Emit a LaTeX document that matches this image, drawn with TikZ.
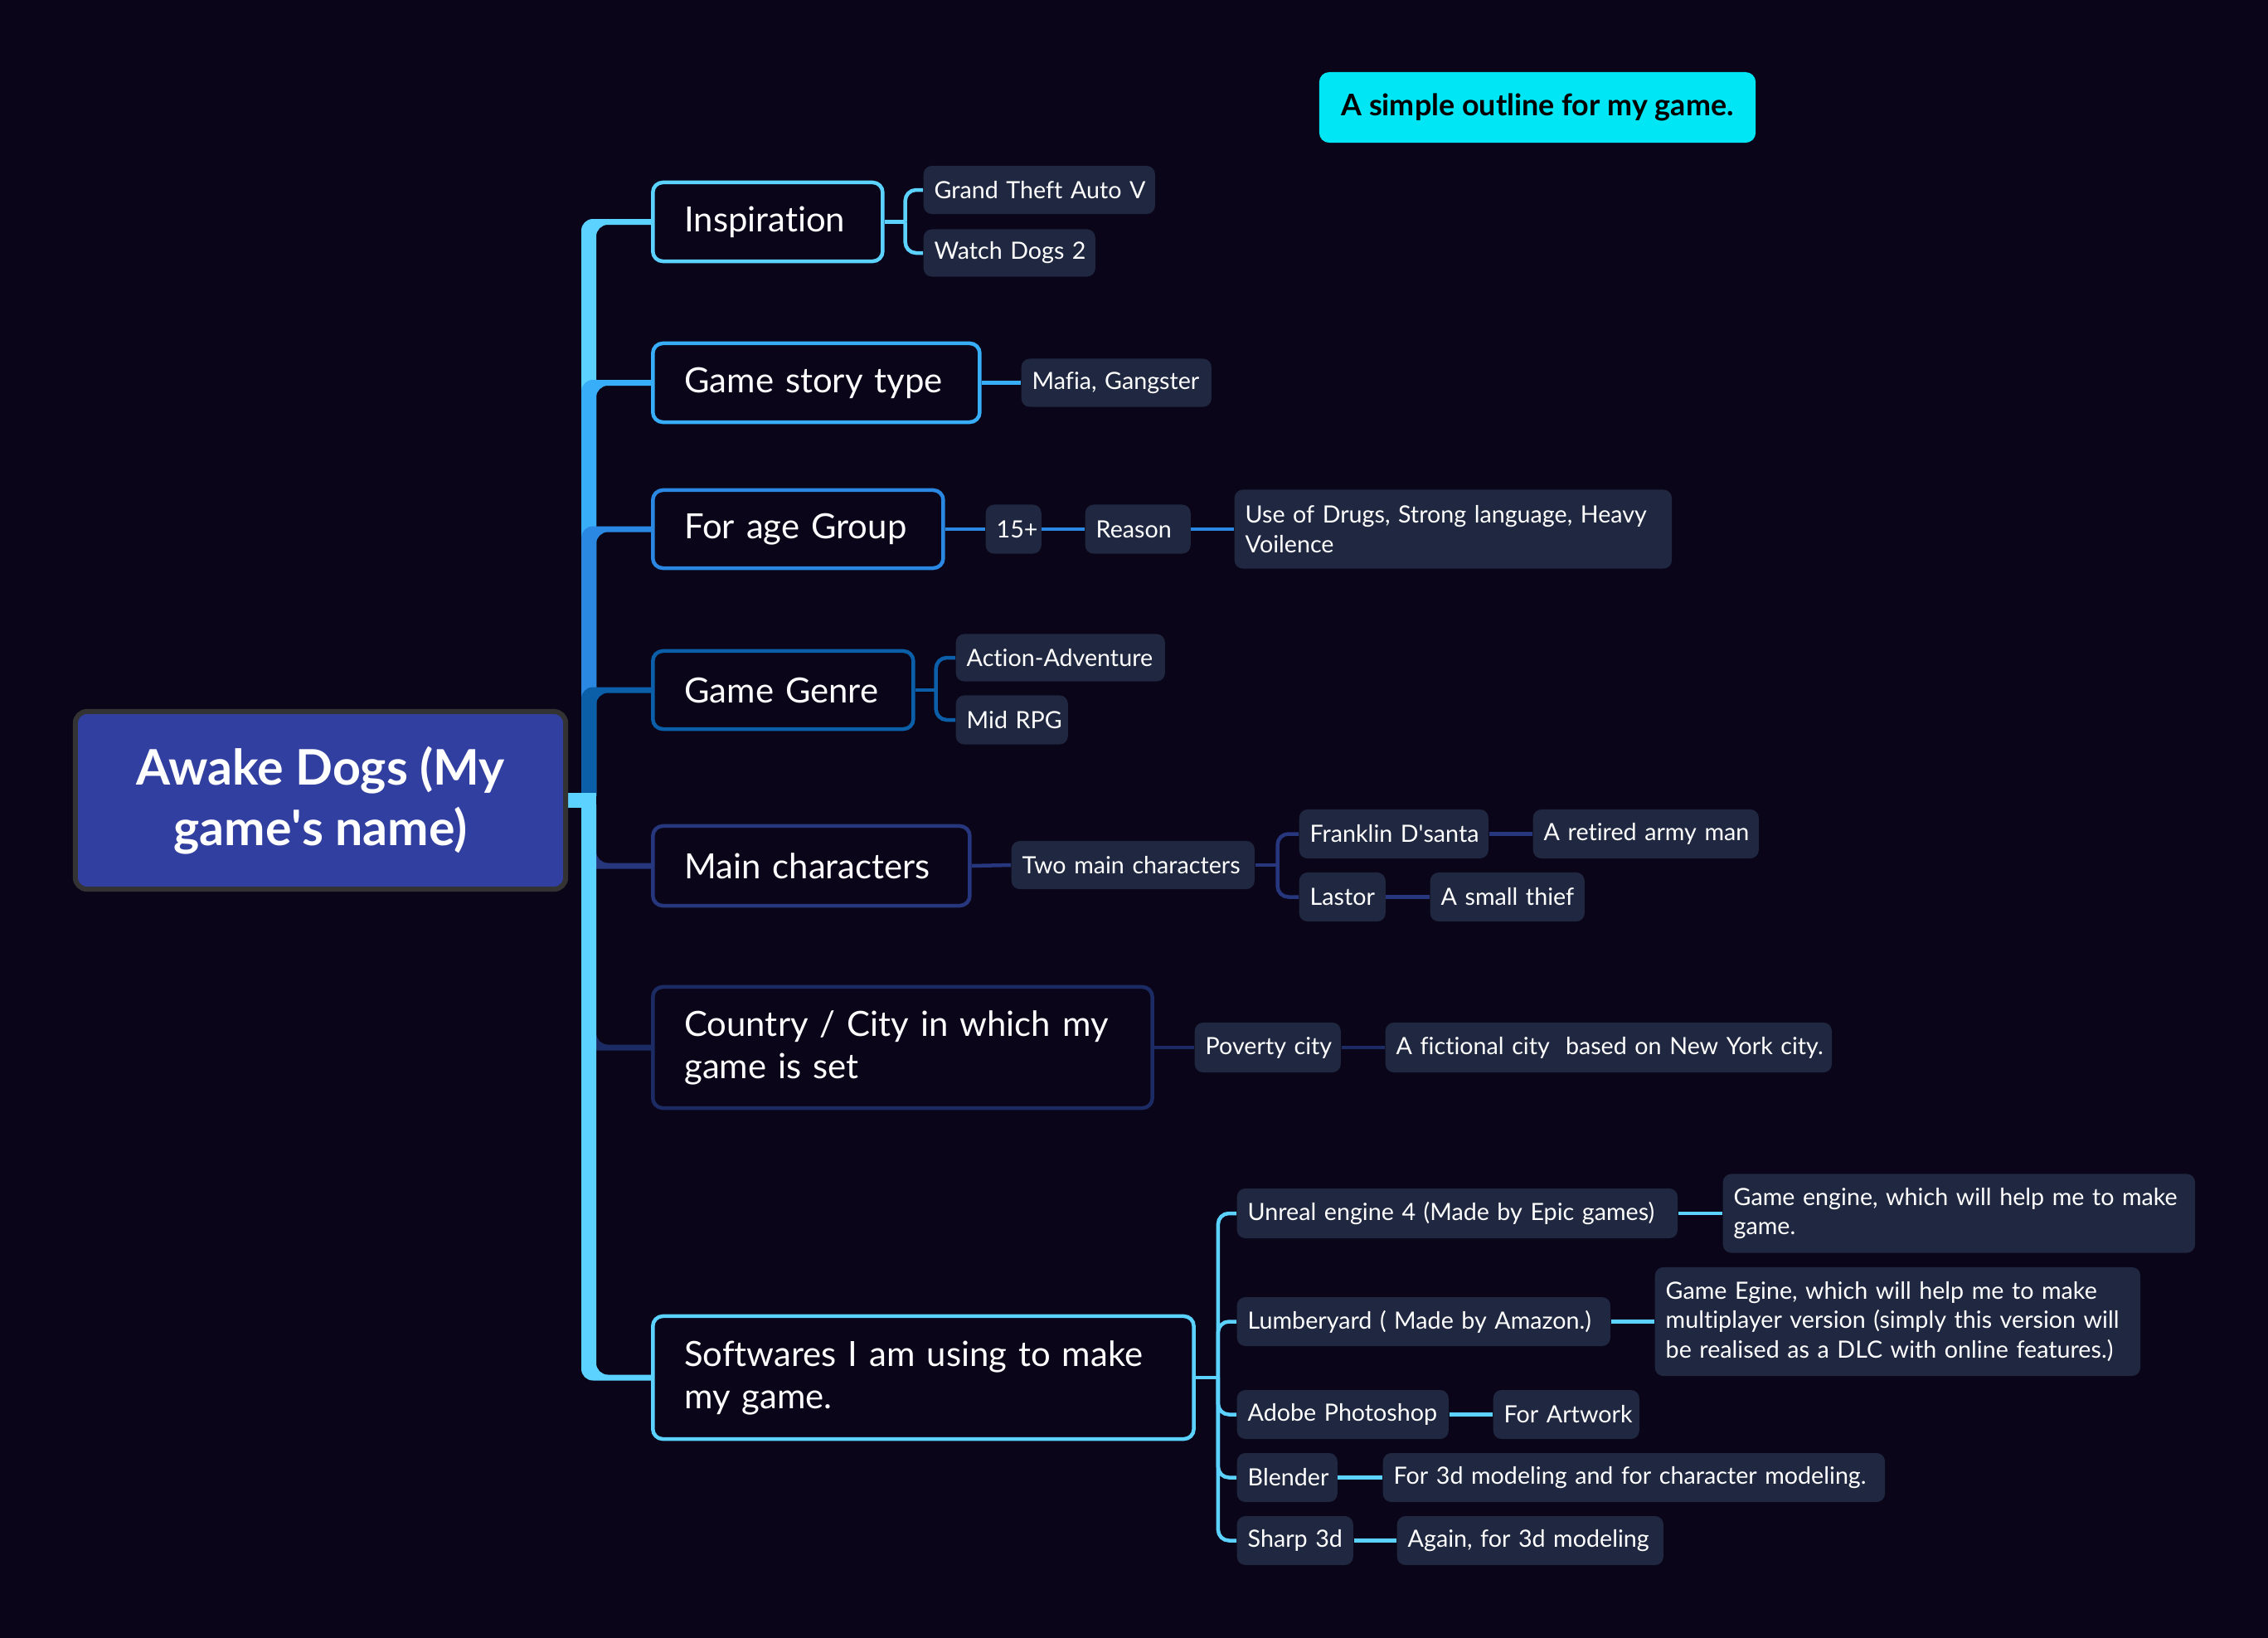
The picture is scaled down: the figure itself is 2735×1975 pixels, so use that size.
\documentclass[tikz,border=0pt]{standalone}
\usepackage{fontspec}
\setmainfont{Lato}[Ligatures=NoCommon]
\usetikzlibrary{backgrounds}
\definecolor{bg}{HTML}{0A0519}
\definecolor{leaf}{HTML}{1F2840}
\definecolor{rootc}{HTML}{3140A0}
\definecolor{rootb}{HTML}{333333}
\definecolor{titlec}{HTML}{00E6F5}
\definecolor{cA}{HTML}{5BD2FF}
\definecolor{cB}{HTML}{38ADF8}
\definecolor{cC}{HTML}{2A88E2}
\definecolor{cD}{HTML}{0B5EA8}
\definecolor{cE}{HTML}{27377E}
\definecolor{cF}{HTML}{1C2B63}
\newcommand\trunkup[2]{%
  \fill[#1, rounded corners=0.14cm] (hubLu) -- ([yshift=0.035cm]hubLu |- #2.west)
    -- ([xshift=0.2cm,yshift=0.035cm]#2.west) -- ([xshift=0.2cm,yshift=-0.035cm]#2.west)
    -- ([yshift=-0.035cm]hubRu |- #2.west) -- (hubRu) -- cycle;}
\newcommand\trunkdown[2]{%
  \fill[#1, rounded corners=0.14cm] (hubLd) -- ([yshift=-0.035cm]hubLd |- #2.west)
    -- ([xshift=0.2cm,yshift=-0.035cm]#2.west) -- ([xshift=0.2cm,yshift=0.035cm]#2.west)
    -- ([yshift=0.035cm]hubRd |- #2.west) -- (hubRd) -- cycle;}
\newcommand\ap{\textquotesingle}
\begin{document}
\begin{tikzpicture}[x=0.01cm, y=-0.01cm,
  lone/.style={draw=#1, line width=0.045cm, fill=bg, rounded corners=0.12cm, anchor=west,
    align=left, inner xsep=0.38cm, inner ysep=0pt, text=white,
    font=\fontsize{11.9}{14.5}\selectfont},
  ltwo/.style={fill=leaf, rounded corners=0.1cm, anchor=west, align=left,
    inner xsep=0.13cm, inner ysep=0pt, text=white,
    font=\fontsize{8.15}{10.2}\selectfont},
  conn/.style={draw=#1, line width=0.045cm, rounded corners=0.13cm}]
\useasboundingbox (0,0) rectangle (2735,1975);

% root and title
\node[fill=rootc, draw=rootb, line width=0.06cm, rounded corners=0.14cm,
  minimum width=5.91cm, minimum height=2.14cm, align=center, text=white,
  font=\bfseries\fontsize{16.8}{20.8}\selectfont] (root) at (386.5,965) {Awake Dogs (My\\game\ap s name)};
\node[fill=titlec, rounded corners=0.12cm, minimum width=5.26cm, minimum height=0.85cm,
  text=black, font=\bfseries\fontsize{10.2}{12}\selectfont] (title) at (1854,129.5) {A simple outline for my game.};

% level 1
\node[lone=cA, text width=2.01cm, minimum height=0.95cm] (insp) at (785,267.5) {\mbox{Inspiration}};
\node[lone=cB, text width=3.18cm, minimum height=0.95cm] (story) at (785,461.5) {\mbox{Game story type}};
\node[lone=cC, text width=2.74cm, minimum height=0.94cm] (age) at (785,638) {\mbox{For age Group}};
\node[lone=cD, text width=2.38cm, minimum height=0.94cm] (genre) at (785,832) {\mbox{Game Genre}};
\node[lone=cE, text width=3.06cm, minimum height=0.96cm] (mainc) at (785,1044) {\mbox{Main characters}};
\node[lone=cF, text width=5.26cm, minimum height=1.46cm] (country) at (785,1263) {Country / City in which my\\game is set};
\node[lone=cA, text width=5.76cm, minimum height=1.48cm] (soft) at (785,1661) {Softwares I am using to make\\my game.};

% level 2
\node[ltwo, text width=2.53cm, minimum height=0.58cm] (gta) at (1113,229) {\mbox{Grand Theft Auto V}};
\node[ltwo, text width=1.81cm, minimum height=0.57cm] (wd) at (1113,305) {\mbox{Watch Dogs 2}};
\node[ltwo, text width=2.03cm, minimum height=0.58cm] (mafia) at (1231,461.5) {\mbox{Mafia, Gangster}};
\node[ltwo, text width=0.41cm, minimum height=0.59cm] (p15) at (1188,638) {\mbox{15+}};
\node[ltwo, text width=1.01cm, minimum height=0.59cm] (reason) at (1308,638) {\mbox{Reason}};
\node[ltwo, text width=5.01cm, minimum height=0.95cm] (drugs) at (1488,638) {Use of Drugs, Strong language, Heavy\\Voilence};
\node[ltwo, text width=2.26cm, minimum height=0.57cm] (action) at (1152,793) {\mbox{Action-Adventure}};
\node[ltwo, text width=1.09cm, minimum height=0.59cm] (midrpg) at (1152,868) {\mbox{Mid RPG}};
\node[ltwo, text width=2.67cm, minimum height=0.58cm] (twomain) at (1219,1043) {\mbox{Two main characters}};
\node[ltwo, text width=2.02cm, minimum height=0.59cm] (franklin) at (1566,1005.5) {\mbox{Franklin D\ap santa}};
\node[ltwo, text width=2.46cm, minimum height=0.59cm] (retired) at (1848,1005.5) {\mbox{A retired army man}};
\node[ltwo, text width=0.78cm, minimum height=0.59cm] (lastor) at (1566,1081.5) {\mbox{Lastor}};
\node[ltwo, text width=1.60cm, minimum height=0.59cm] (thief) at (1724,1081.5) {\mbox{A small thief}};
\node[ltwo, text width=1.50cm, minimum height=0.60cm] (poverty) at (1440,1263) {\mbox{Poverty city}};
\node[ltwo, text width=5.12cm, minimum height=0.60cm] (fictional) at (1670,1263) {\mbox{A fictional city\ \ based on New York city.}};
\node[ltwo, text width=5.05cm, minimum height=0.60cm] (unreal) at (1491,1463) {\mbox{Unreal engine 4 (Made by Epic games)}};
\node[ltwo, text width=5.43cm, minimum height=0.95cm] (gameeng) at (2077,1463) {Game engine, which will help me to make\\game.};
\node[ltwo, text width=4.24cm, minimum height=0.59cm] (lumber) at (1491,1593.5) {\mbox{Lumberyard ( Made by Amazon.)}};
\node[ltwo, text width=5.59cm, minimum height=1.31cm] (egine) at (1995,1593.5) {Game Egine, which will help me to make\\multiplayer version (simply this version will\\be realised as a DLC with online features.)};
\node[ltwo, text width=2.29cm, minimum height=0.59cm] (photoshop) at (1491,1705.5) {\mbox{Adobe Photoshop}};
\node[ltwo, text width=1.50cm, minimum height=0.59cm] (artwork) at (1800,1705.5) {\mbox{For Artwork}};
\node[ltwo, text width=0.95cm, minimum height=0.59cm] (blender) at (1491,1781.5) {\mbox{Blender}};
\node[ltwo, text width=5.79cm, minimum height=0.59cm] (model3d) at (1667,1781.5) {\mbox{For 3d modeling and for character modeling.}};
\node[ltwo, text width=1.14cm, minimum height=0.59cm] (sharp) at (1491,1857.5) {\mbox{Sharp 3d}};
\node[ltwo, text width=2.95cm, minimum height=0.59cm] (again) at (1684,1857.5) {\mbox{Again, for 3d modeling}};

\coordinate (hubLu) at (701,974);
\coordinate (hubRu) at (719,974);
\coordinate (hubLd) at (701,956);
\coordinate (hubRd) at (719,956);
\coordinate (hubR) at (719,965);
\coordinate (fi) at ([xshift=0.25cm]insp.east);
\coordinate (fg) at ([xshift=0.25cm]genre.east);
\coordinate (fm) at ([xshift=0.27cm]twomain.east);
\coordinate (fs) at ([xshift=0.27cm]soft.east);

\begin{pgfonlayer}{background}
\fill[bg] (0,0) rectangle (2735,1975);
\trunkup{cA}{insp}
\trunkup{cB}{story}
\trunkup{cC}{age}
\trunkup{cD}{genre}
\trunkdown{cE}{mainc}
\trunkdown{cF}{country}
\trunkdown{cA}{soft}
\fill[cA] ([yshift=0.09cm]root.east) rectangle ([yshift=-0.09cm]hubR);
% inspiration
\draw[conn=cA] (insp.east) -- (fi);
\draw[conn=cA] (fi) |- (gta.west);
\draw[conn=cA] (fi) |- (wd.west);
% story
\draw[conn=cB] (story.east) -- (mafia.west);
% age
\draw[conn=cC] (age.east) -- (p15.west);
\draw[conn=cC] (p15.east) -- (reason.west);
\draw[conn=cC] (reason.east) -- (drugs.west);
% genre
\draw[conn=cD] (genre.east) -- (fg);
\draw[conn=cD] (fg) |- (action.west);
\draw[conn=cD] (fg) |- (midrpg.west);
% main characters
\draw[conn=cE] (mainc.east) -- (twomain.west);
\draw[conn=cE] (twomain.east) -- (fm);
\draw[conn=cE] (fm) |- (franklin.west);
\draw[conn=cE] (fm) |- (lastor.west);
\draw[conn=cE] (franklin.east) -- (retired.west);
\draw[conn=cE] (lastor.east) -- (thief.west);
% country
\draw[conn=cF] (country.east) -- (poverty.west);
\draw[conn=cF] (poverty.east) -- (fictional.west);
% softwares
\draw[conn=cA] (soft.east) -- (fs);
\draw[conn=cA] (fs) |- (unreal.west);
\draw[conn=cA] (fs) |- (lumber.west);
\draw[conn=cA] (fs) |- (photoshop.west);
\draw[conn=cA] (fs) |- (blender.west);
\draw[conn=cA] (fs) |- (sharp.west);
\draw[conn=cA] (unreal.east) -- (gameeng.west);
\draw[conn=cA] (lumber.east) -- (egine.west);
\draw[conn=cA] (photoshop.east) -- (artwork.west);
\draw[conn=cA] (blender.east) -- (model3d.west);
\draw[conn=cA] (sharp.east) -- (again.west);
\end{pgfonlayer}
\end{tikzpicture}
\end{document}
